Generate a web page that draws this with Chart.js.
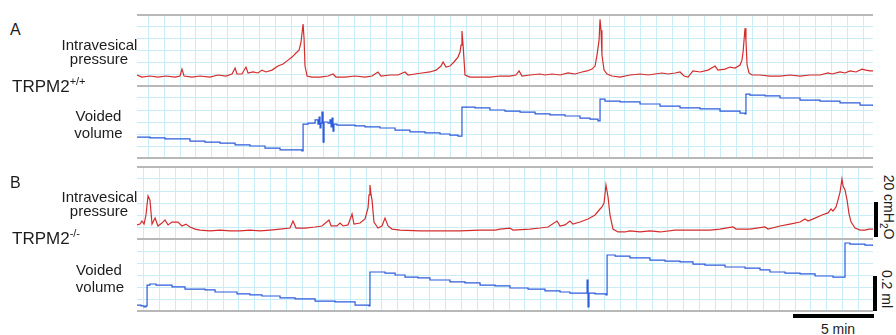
<!DOCTYPE html>
<html>
<head>
<meta charset="utf-8">
<script src="https://cdn.jsdelivr.net/npm/chart.js@4.4.1/dist/chart.umd.min.js"></script>
<style>
  body { margin: 0; background: #fff; font-family: "Liberation Sans", Arial, sans-serif; color: #1c1c1c; }
  #fig { position: relative; width: 896px; height: 335px; overflow: hidden; }
  canvas { position: absolute; }
  .lbl { position: absolute; white-space: nowrap; line-height: 1; }
  .mid { transform: translateX(-50%); }
  .rot { transform: translate(-50%, -50%) rotate(90deg); }
  .rule { position: absolute; left: 137px; width: 736px; height: 2px; background: #b8b8b8; }
  .bar { position: absolute; background: #000; }
</style>
</head>
<body>
<div id="fig">
  <canvas id="a-press" width="736" height="71" style="left:137px;top:15px"></canvas>
  <canvas id="a-vol" width="736" height="72" style="left:137px;top:86px"></canvas>
  <canvas id="b-press" width="736" height="72" style="left:137px;top:167px"></canvas>
  <canvas id="b-vol" width="736" height="73" style="left:137px;top:239px"></canvas>

  <div class="rule" style="top:14px"></div>
  <div class="rule" style="top:85px"></div>
  <div class="rule" style="top:157px"></div>
  <div class="rule" style="top:166px"></div>
  <div class="rule" style="top:238px"></div>
  <div class="rule" style="top:310px"></div>

  <div class="lbl" style="left:10px;top:21.5px;font-size:16px">A</div>
  <div class="lbl mid" style="left:99.5px;top:36.8px;font-size:15px">Intravesical</div>
  <div class="lbl mid" style="left:99px;top:51.3px;font-size:15px">pressure</div>
  <div class="lbl" style="left:12px;top:75.6px;font-size:17px">TRPM2<span style="font-size:11px;vertical-align:7px">+/+</span></div>
  <div class="lbl mid" style="left:98.5px;top:108.3px;font-size:15px">Voided</div>
  <div class="lbl mid" style="left:98.5px;top:124.8px;font-size:15px">volume</div>

  <div class="lbl" style="left:10px;top:174.8px;font-size:16px">B</div>
  <div class="lbl mid" style="left:99.5px;top:189px;font-size:15px">Intravesical</div>
  <div class="lbl mid" style="left:99px;top:203.3px;font-size:15px">pressure</div>
  <div class="lbl" style="left:12px;top:227.6px;font-size:17px">TRPM2<span style="font-size:11px;vertical-align:7px">-/-</span></div>
  <div class="lbl mid" style="left:99px;top:262.3px;font-size:15px">Voided</div>
  <div class="lbl mid" style="left:100px;top:279px;font-size:15px">volume</div>

  <div class="bar" style="left:874px;top:202px;width:4px;height:35px"></div>
  <div class="lbl rot" style="left:887px;top:206.5px;font-size:14px">20 cmH<sub style="font-size:10px">2</sub>O</div>
  <div class="bar" style="left:873px;top:276px;width:4px;height:35px"></div>
  <div class="lbl rot" style="left:887px;top:288.5px;font-size:14px">0.2 ml</div>
  <div class="bar" style="left:793px;top:314px;width:81px;height:4px"></div>
  <div class="lbl mid" style="left:838px;top:322.2px;font-size:14px">5 min</div>
</div>

<script>
/*
Cystometry traces, TRPM2+/+ (A) and TRPM2-/- (B).
Time in minutes, pressure in cmH2O, voided volume in ml.
Values.
*/

// A - intravesical pressure
const aPressTime = [0,0.31,0.81,1.31,1.81,2.38,2.69,2.81,2.94,3.44,3.94,4.56,5.06,5.56,5.94,6.13,6.25,6.56,6.81,6.94,7.25,7.56,7.81,8.06,8.44,8.81,9.13,9.44,9.69,9.94,10.13,10.25,10.38,10.44,10.5,10.63,10.94,11.44,11.94,12.25,12.44,13,13.63,14.25,14.69,15.06,15.25,15.81,16.31,16.75,16.94,17.38,17.81,18.31,18.69,19,19.13,19.31,19.56,19.81,20.06,20.19,20.25,20.31,20.38,20.5,20.81,21.44,22.06,22.69,23.31,23.69,23.88,24.06,24.56,25.19,25.5,25.94,26.44,26.94,27.38,27.81,28.13,28.44,28.63,28.75,28.88,28.94,29,29.06,29.19,29.38,29.69,30.19,30.81,31.44,31.94,32.38,32.81,33.19,33.63,33.94,34.19,34.44,34.75,35.19,35.69,36.13,36.31,36.75,37.06,37.38,37.69,37.81,37.88,38,38.06,38.13,38.25,38.44,38.94,39.56,40.19,40.81,41.44,42.06,42.69,43.19,43.44,43.94,44.25,44.56,44.94,45.31,45.56,45.81,46];
const aPressVal = [6.5,5.3,5.9,5.3,5.9,5.3,5.9,10.0,5.9,5.3,5.9,5.3,6.5,5.9,7.1,10.6,7.1,7.1,11.2,7.7,8.3,7.7,9.4,8.3,9.4,11.8,13.0,15.3,17.1,19.5,21.2,26.0,36.6,28.3,11.8,5.9,5.3,5.3,5.9,7.1,5.3,5.3,5.9,5.3,5.9,8.3,5.9,6.5,6.5,8.3,6.5,7.1,7.7,8.3,9.4,11.8,14.2,11.2,11.8,14.2,17.1,20.1,24.2,32.5,24.2,6.5,5.3,5.3,5.3,5.9,5.9,6.5,8.9,5.9,6.5,7.1,6.5,7.1,6.5,7.7,7.1,8.3,8.9,10.0,11.8,18.3,27.1,39.5,33.0,18.3,9.4,7.1,5.9,5.3,6.5,7.1,6.5,7.1,7.7,7.1,7.7,8.3,5.9,5.3,8.9,8.3,9.4,11.8,9.4,10.0,11.2,10.6,12.4,15.3,20.1,34.2,27.1,12.4,7.7,6.5,6.5,5.9,5.9,6.5,5.9,6.5,6.5,7.7,7.1,8.3,7.7,8.9,8.3,10.0,9.4,8.9,8.9];

// A - voided volume
const aVolTime = [0,0.81,1.75,2.38,3.31,4.25,5.19,6.13,7.06,8,8.94,9.88,10.31,10.38,10.69,11.13,11.31,11.38,11.44,11.5,11.56,11.63,11.69,11.94,12.06,12.13,12.19,12.25,12.31,12.5,13,13.63,14.25,15.19,16.13,17.06,18,18.94,19.56,20.06,20.25,20.31,20.56,21.13,22.06,23,23.94,24.88,25.81,26.75,27.69,28.31,28.81,28.94,29.25,30.19,31.44,32.69,33.94,35.19,36.44,37.69,38,38.06,38.31,39.25,40.19,41.44,42.69,43.94,45.19,46];
const aVolVal = [0.122,0.117,0.111,0.111,0.099,0.093,0.087,0.076,0.070,0.058,0.047,0.047,0.041,0.198,0.204,0.222,0.198,0.239,0.175,0.204,0.268,0.093,0.210,0.204,0.222,0.181,0.233,0.157,0.198,0.192,0.192,0.187,0.181,0.175,0.163,0.152,0.146,0.140,0.134,0.128,0.128,0.297,0.297,0.292,0.280,0.274,0.268,0.257,0.251,0.245,0.233,0.227,0.216,0.344,0.332,0.327,0.315,0.303,0.292,0.286,0.274,0.262,0.257,0.373,0.367,0.362,0.350,0.338,0.332,0.321,0.309,0.303];

// B - intravesical pressure
const bPressTime = [0,0.19,0.31,0.44,0.56,0.69,0.81,0.94,1.13,1.31,1.56,1.75,1.94,2.19,2.56,2.81,3.06,3.31,3.63,3.94,4.56,5.19,5.81,6.44,7.06,7.69,8.31,8.94,9.56,9.75,9.94,10.5,11.13,11.56,12,12.13,12.5,12.69,12.88,13.19,13.44,13.56,13.94,14.25,14.44,14.5,14.56,14.63,14.69,14.81,15.06,15.31,15.5,15.69,15.94,16.44,17.69,18.94,20.19,21.44,22.38,22.69,23.31,23.5,24.56,25.19,25.69,26.25,26.44,26.75,27.06,27.25,27.69,28.19,28.63,28.94,29.06,29.19,29.31,29.44,29.56,29.75,30.06,30.5,30.81,31.44,32.06,32.69,33.63,34.56,35.19,35.81,36.44,37.25,37.44,38.31,39.25,39.44,40.19,40.81,41.44,41.75,41.94,42.38,42.81,43.19,43.38,43.5,43.69,43.81,43.94,44.06,44.13,44.25,44.38,44.5,44.63,44.88,45.19,45.5,45.75,46];
const bPressVal = [8.2,8.7,10.5,8.7,14.0,25.1,22.7,8.7,12.2,7.6,9.3,11.1,8.2,9.9,9.9,7.6,8.7,7.0,5.8,5.2,4.7,5.2,4.7,4.7,5.2,4.7,5.2,5.8,6.4,10.5,6.4,6.4,7.0,7.6,11.1,7.6,7.6,9.3,7.6,8.2,14.6,8.7,9.3,11.7,18.1,25.7,31.5,25.7,22.7,9.9,6.4,7.6,12.2,7.6,5.8,5.2,4.7,4.7,4.7,5.2,5.2,5.8,6.4,5.2,5.8,6.4,7.0,10.5,7.6,8.2,10.5,8.7,9.9,11.7,14.0,17.5,18.7,21.0,31.5,24.5,14.0,5.8,4.1,4.1,4.7,4.1,4.7,4.1,5.2,5.2,5.2,5.2,5.8,7.0,5.8,5.8,7.0,5.8,7.6,8.7,9.9,11.7,10.5,12.2,14.0,15.2,17.5,16.3,18.7,22.7,27.4,35.0,30.9,28.6,22.7,14.6,9.9,6.4,5.2,5.2,5.8,5.8];

// B - voided volume
const bVolTime = [0,0.25,0.44,0.56,0.63,0.81,1.19,2.19,3,4.25,4.88,6.25,7.06,7.81,8.94,9.88,11.13,12.38,13.63,14.5,14.56,15.5,16.13,16.75,17.56,18.31,19.56,20.5,21.44,22.38,23.31,24.44,25.5,26.44,27.06,28.06,28.13,28.19,28.25,28.63,29.31,29.38,29.88,30.81,32.06,33,33.94,34.75,35.5,36.75,38,38.94,39.56,40.5,41.44,42.38,43.5,44.19,44.25,44.56,45.5,46];
const bVolVal = [0.040,0.035,0.029,0.035,0.155,0.161,0.155,0.144,0.132,0.127,0.115,0.104,0.098,0.092,0.081,0.075,0.063,0.058,0.040,0.035,0.230,0.224,0.213,0.201,0.196,0.184,0.173,0.167,0.155,0.150,0.138,0.132,0.121,0.115,0.109,0.109,0.184,0.029,0.109,0.104,0.098,0.328,0.322,0.311,0.299,0.293,0.288,0.276,0.270,0.259,0.253,0.242,0.230,0.224,0.219,0.207,0.201,0.201,0.397,0.391,0.385,0.380];

const TOTAL_MIN = 46;
const PRESS_MAX = 42;   // cmH2O shown per panel
const VOL_MAX = 0.42;   // ml shown per panel
const GRID_STEP = 0.993; // one chart-paper division, about 1 min
const GRID = '#c9edf6';
const RED = '#d42c2c';
const BLUE = '#2c5bdc';

function drawTrace(id, times, values, color, yMax, gridStart, stepped) {
  const points = times.map((t, i) => ({ x: t, y: values[i] }));
  return new Chart(document.getElementById(id), {
    type: 'line',
    data: {
      datasets: [
        {
          data: points,
          borderColor: color,
          borderWidth: 1.2,
          pointRadius: 0,
          tension: 0,
          stepped: stepped,
        },
      ],
    },
    options: {
      responsive: false,
      animation: false,
      events: [],
      layout: { padding: 0 },
      plugins: { legend: { display: false }, tooltip: { enabled: false } },
      scales: {
        x: {
          type: 'linear',
          min: 0,
          max: TOTAL_MIN,
          ticks: { display: false },
          grid: { color: GRID, lineWidth: 1, drawTicks: false },
          border: { display: false },
          afterBuildTicks: (axis) => {
            const ticks = [];
            for (let v = gridStart; v < TOTAL_MIN; v += GRID_STEP) ticks.push({ value: v });
            axis.ticks = ticks;
          },
        },
        y: {
          min: 0,
          max: yMax,
          ticks: { display: false },
          grid: { color: GRID, lineWidth: 1, drawTicks: false },
          border: { display: false },
          afterBuildTicks: (axis) => {
            axis.ticks = [0, 1, 2, 3, 4, 5, 6].map((k) => ({ value: (yMax * k) / 6 }));
          },
        },
      },
    },
  });
}

drawTrace('a-press', aPressTime, aPressVal, RED, PRESS_MAX, 0.706, false);
drawTrace('a-vol', aVolTime, aVolVal, BLUE, VOL_MAX, 0.706, true);
drawTrace('b-press', bPressTime, bPressVal, RED, PRESS_MAX, 0.413, false);
drawTrace('b-vol', bVolTime, bVolVal, BLUE, VOL_MAX, 0.413, true);
</script>
</body>
</html>
